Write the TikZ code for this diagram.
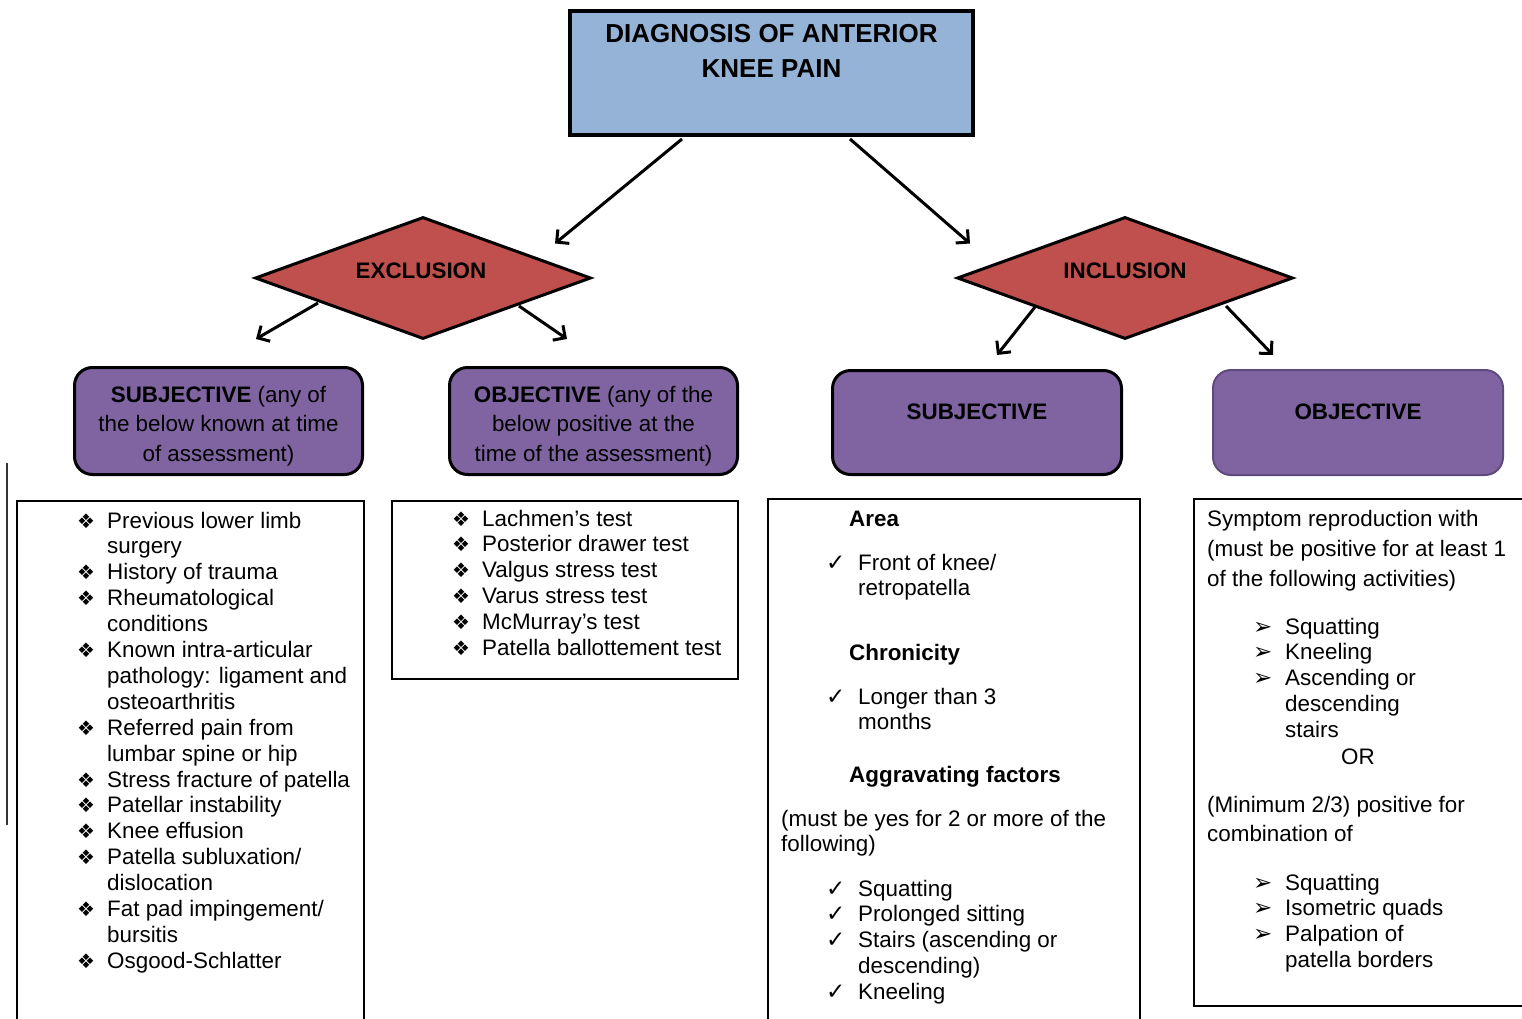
\documentclass[tikz,border=0pt]{standalone}
\usepackage{fontspec}
\setmainfont{Liberation Sans}
\newfontfamily\dvs{DejaVu Sans}
\usetikzlibrary{arrows.meta,shapes.geometric,calc}
\definecolor{boxblue}{HTML}{95B3D7}
\definecolor{dred}{HTML}{C0504D}
\definecolor{purp}{HTML}{8064A2}
\definecolor{purpdk}{HTML}{5F4A7E}
\newcommand{\dbul}{\makebox[30pt][l]{\raisebox{0pt}{\dvs\fontsize{20}{20}\selectfont ❖}}}
\newcommand{\cmk}{\makebox[32pt][l]{\dvs\fontsize{23}{23}\selectfont ✓}}
\newcommand{\abul}{\makebox[32pt][l]{\dvs\fontsize{23}{23}\selectfont ➢}}
\begin{document}
\begin{tikzpicture}[x=1pt,y=-1pt,
  arr/.style={line width=3pt,-{Straight Barb[length=9pt,width=18pt]}},
  dia/.style={diamond, draw=black, line width=3pt, fill=dred, minimum width=336pt, minimum height=122pt, inner sep=0pt},
  pbox/.style={rectangle, rounded corners=18pt, fill=purp, draw=black, line width=3pt, minimum width=288pt, minimum height=107pt, inner sep=0pt},
  lbox/.style={rectangle, draw=black, line width=1.8pt, inner sep=0pt, anchor=north west},
  txt/.style={inner sep=0pt, font=\fontsize{22.4}{25.9}\selectfont, text=black, anchor=base west},
  ctxt/.style={inner sep=0pt, font=\fontsize{22.4}{29.5}\selectfont, text=black, anchor=base},
  ]
\clip (0,0) rectangle (1522,1019);
\fill[white] (0,0) rectangle (1522,1019);

% top
\node[rectangle, draw=black, line width=4pt, fill=boxblue, minimum width=403pt, minimum height=124pt, inner sep=0pt] (top) at (771.5,73) {};
\node[inner sep=0pt, font=\fontsize{26}{35}\selectfont\bfseries, anchor=base] (toptxt) at (771.5,43)
  {\begin{tabular}[t]{@{}c@{}}DIAGNOSIS OF ANTERIOR\\KNEE PAIN\end{tabular}};

% diamonds
\node[dia] (excl) at (423,278) {};
\node[inner sep=0pt, font=\fontsize{22.4}{26}\selectfont\bfseries, anchor=base] (exclt) at (421,278) {EXCLUSION};
\node[dia] (incl) at (1125,278) {};
\node[inner sep=0pt, font=\fontsize{22.4}{26}\selectfont\bfseries, anchor=base] (inclt) at (1125,278) {INCLUSION};

% purple boxes
\node[pbox] (s1) at (218.5,421) {};
\node[ctxt] (s1t) at (218.5,402) {\begin{tabular}[t]{@{}c@{}}\textbf{SUBJECTIVE} (any of\\the below known at time\\of assessment)\end{tabular}};
\node[pbox] (o1) at (593.5,421) {};
\node[ctxt] (o1t) at (593.5,402) {\begin{tabular}[t]{@{}c@{}}\textbf{OBJECTIVE} (any of the\\below positive at the\\time of the assessment)\end{tabular}};
\node[pbox, minimum width=289pt, minimum height=104pt] (s2) at (977,422.5) {};
\node[ctxt, font=\fontsize{22.4}{26}\selectfont\bfseries] (s2t) at (977,419) {SUBJECTIVE};
\node[pbox, draw=purpdk, line width=2pt, minimum width=290pt, minimum height=105pt] (o2) at (1358,422.5) {};
\node[ctxt, font=\fontsize{22.4}{26}\selectfont\bfseries] (o2t) at (1358,419) {OBJECTIVE};

% arrows
\draw[arr] ($(top.south)+(-89.5,2)$) -- ($(excl.north)+(132,28)$);
\draw[arr] ($(top.south)+(78.5,2)$) -- ($(incl.north)+(-155,28)$);
\draw[arr] ($(excl.center)+(-105,25)$) -- ($(s1.north)+(37.5,-27)$);
\draw[arr] ($(excl.center)+(96,28)$) -- ($(o1.north)+(-26.5,-27)$);
\draw[arr] ($(incl.center)+(-90,29)$) -- ($(s2.north)+(20,-14)$);
\draw[arr] ($(incl.center)+(101,28)$) -- ($(o2.north)+(-85,-14)$);

% list boxes
\node[lbox, minimum width=347pt, minimum height=540pt] (la) at (16,500) {};
\node[lbox, minimum width=346pt, minimum height=178pt] (lb) at (391,500) {};
\node[lbox, minimum width=372pt, minimum height=540pt] (lc) at (767,498) {};
\node[lbox, minimum width=340pt, minimum height=507pt] (ld) at (1193,498) {};
\draw[line width=1.2pt, black!80] (7,463) -- (7,825);

% box A
\node[txt] (at) at (77,528) {\begin{tabular}[t]{@{}l@{}l@{}}
\dbul & Previous lower limb\\
 & surgery\\
\dbul & History of trauma\\
\dbul & Rheumatological\\
 & conditions\\
\dbul & Known intra-articular\\
 & pathology: ligament and\\
 & osteoarthritis\\
\dbul & Referred pain from\\
 & lumbar spine or hip\\
\dbul & Stress fracture of patella\\
\dbul & Patellar instability\\
\dbul & Knee effusion\\
\dbul & Patella subluxation/\\
 & dislocation\\
\dbul & Fat pad impingement/\\
 & bursitis\\
\dbul & Osgood-Schlatter
\end{tabular}};

% box B
\node[txt] (bt) at (452,526) {\begin{tabular}[t]{@{}l@{}l@{}}
\dbul & Lachmen’s test\\
\dbul & Posterior drawer test\\
\dbul & Valgus stress test\\
\dbul & Varus stress test\\
\dbul & McMurray’s test\\
\dbul & Patella ballottement test
\end{tabular}};

% box C
\node[txt, font=\fontsize{22.4}{26}\selectfont\bfseries] (c1) at (849,526) {Area};
\node[txt] (c2) at (826,570) {\begin{tabular}[t]{@{}l@{}l@{}}
\cmk & Front of knee/\\
 & retropatella
\end{tabular}};
\node[txt, font=\fontsize{22.4}{26}\selectfont\bfseries] (c3) at (849,660) {Chronicity};
\node[txt] (c4) at (826,704) {\begin{tabular}[t]{@{}l@{}l@{}}
\cmk & Longer than 3\\
 & months
\end{tabular}};
\node[txt, font=\fontsize{22.4}{26}\selectfont\bfseries] (c5) at (849,782) {Aggravating factors};
\node[txt] (c6) at (781,826) {\begin{tabular}[t]{@{}l@{}}
(must be yes for 2 or more of the\\
following)
\end{tabular}};
\node[txt] (c7) at (826,896) {\begin{tabular}[t]{@{}l@{}l@{}}
\cmk & Squatting\\
\cmk & Prolonged sitting\\
\cmk & Stairs (ascending or\\
 & descending)\\
\cmk & Kneeling
\end{tabular}};

% box D
\node[txt, font=\fontsize{22.4}{30}\selectfont] (d1) at (1207,526) {\begin{tabular}[t]{@{}l@{}}
Symptom reproduction with\\
(must be positive for at least 1\\
of the following activities)
\end{tabular}};
\node[txt] (d2) at (1253,634) {\begin{tabular}[t]{@{}l@{}l@{}}
\abul & Squatting\\
\abul & Kneeling\\
\abul & Ascending or\\
 & descending\\
 & stairs
\end{tabular}};
\node[txt] (d3) at (1341,764) {OR};
\node[txt, font=\fontsize{22.4}{29}\selectfont] (d4) at (1207,812) {\begin{tabular}[t]{@{}l@{}}
(Minimum 2/3) positive for\\
combination of
\end{tabular}};
\node[txt] (d5) at (1253,890) {\begin{tabular}[t]{@{}l@{}l@{}}
\abul & Squatting\\
\abul & Isometric quads\\
\abul & Palpation of\\
 & patella borders
\end{tabular}};
\end{tikzpicture}
\end{document}
